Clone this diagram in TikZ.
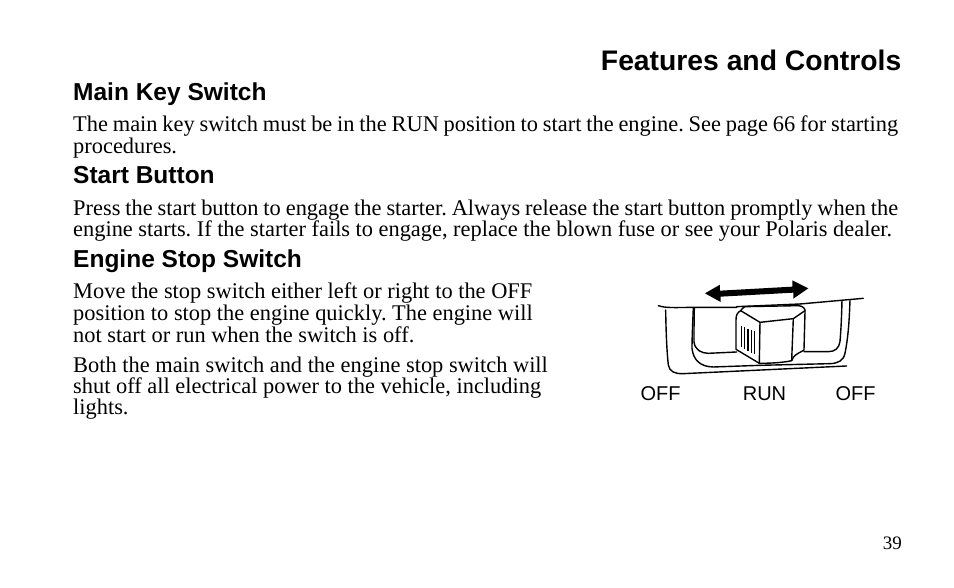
\documentclass[tikz,border=0pt]{standalone}
\usepackage{fontspec}
\setmainfont{Liberation Serif}
\newfontfamily\headfont{Liberation Sans}
\begin{document}
\begin{tikzpicture}[x=1pt,y=-1pt,
  body/.style={anchor=base west,inner sep=0pt,font=\frenchspacing\fontsize{22.4}{24}\selectfont},
  subhead/.style={anchor=base west,inner sep=0pt,font=\headfont\bfseries\fontsize{24.5}{28}\selectfont},
  title/.style={anchor=base east,inner sep=0pt,font=\headfont\bfseries\fontsize{28.3}{32}\selectfont},
  tag/.style={anchor=base,inner sep=0pt,font=\headfont\fontsize{20}{22}\selectfont},
  ink/.style={draw=black,line width=1.4pt,line cap=round,line join=round}]
\useasboundingbox (0,0) rectangle (954,588);
\node[title] (t0) at (901.5,71) {Features and Controls};
\node[subhead] (h1) at (73,101) {Main Key Switch};
\node[body] (a1) at (73,132) {\makebox[825pt][s]{The main key switch must be in the RUN position to start the engine. See page 66 for starting}};
\node[body] (a2) at (73,153.5) {procedures.};
\node[subhead] (h2) at (73,184) {Start Button};
\node[body] (b1) at (73,216) {\makebox[825pt][s]{Press the start button to engage the starter. Always release the start button promptly when the}};
\node[body] (b2) at (73,237) {\makebox[819pt][s]{engine starts. If the starter fails to engage, replace the blown fuse or see your Polaris dealer.}};
\node[subhead] (h3) at (73,268) {Engine Stop Switch};
\node[body] (c1) at (73,299) {Move the stop switch either left or right to the OFF};
\node[body] (c2) at (73,320) {position to stop the engine quickly. The engine will};
\node[body] (c3) at (73,342) {not start or run when the switch is off.};
\node[body] (d1) at (73,372) {Both the main switch and the engine stop switch will};
\node[body] (d2) at (73,393) {shut off all electrical power to the vehicle, including};
\node[body] (d3) at (73,414) {lights.};
\node[tag] (o1) at (660.5,400) {OFF};
\node[tag] (o2) at (764.5,400) {RUN};
\node[tag] (o3) at (855.5,400) {OFF};
\node[inner sep=0pt,anchor=base east,font=\fontsize{19}{22}\selectfont] (pg) at (902,549) {39};
\begin{scope}[shift={(630,270)},x=0.3333pt,y=-0.3333pt]
 % double arrow
 \fill (225,70) -- (270,44) -- (270,62) -- (487,50) -- (487,31) -- (535,55) -- (490,86) -- (490,68) -- (272,80) -- (272,96) -- cycle;
 % top edge
 \draw[ink] (85,107) .. controls (105,114) and (130,113) .. (190,112) -- (320,112) (510,102) -- (700,85);
 \draw[ink] (320,110) -- (510,102);
 % outer housing
 \draw[ink] (107,120) .. controls (108,180) and (110,240) .. (115,285) .. controls (118,305) and (135,312) .. (160,311) -- (650,288);
 \draw[ink] (660,92) .. controls (658,150) and (655,200) .. (645,250) .. controls (640,272) and (625,280) .. (600,281);
 % inner recess
 \draw[ink] (190,114) .. controls (188,160) and (186,210) .. (186,235) .. controls (190,270) and (210,290) .. (250,291) -- (390,286) -- (600,281);
 \draw[ink] (193,114) .. controls (192,160) and (192,190) .. (192,215) .. controls (194,240) and (215,250) .. (235,250) -- (320,246);
 \draw[ink] (636,92) .. controls (635,140) and (633,180) .. (630,215) .. controls (627,235) and (615,245) .. (595,245) -- (522,245);
 % switch knob
 \draw[ink,fill=white] (332,122) .. controls (322,128) and (318,135) .. (318,150) -- (318,238) -- (388,280) .. controls (420,280) and (460,278) .. (485,272) -- (490,262) .. controls (500,250) and (510,248) .. (522,240) -- (525,128) .. controls (528,115) and (518,108) .. (505,107) -- (345,110) .. controls (340,112) and (335,117) .. (332,122) -- cycle;
 \draw[ink] (332,122) -- (390,157) -- (490,146) -- (525,122);
 \draw[ink] (390,157) -- (388,280);
 \draw[ink] (490,146) -- (485,272);
 % grip ribs
 \foreach \xa/\ya/\yb in {335/168/232, 344/172/238, 354/176/243, 364/180/248, 374/182/252}
   \draw[black,line width=1.4pt] (\xa,\ya) -- (\xa,\yb);
\end{scope}
\end{tikzpicture}
\end{document}
